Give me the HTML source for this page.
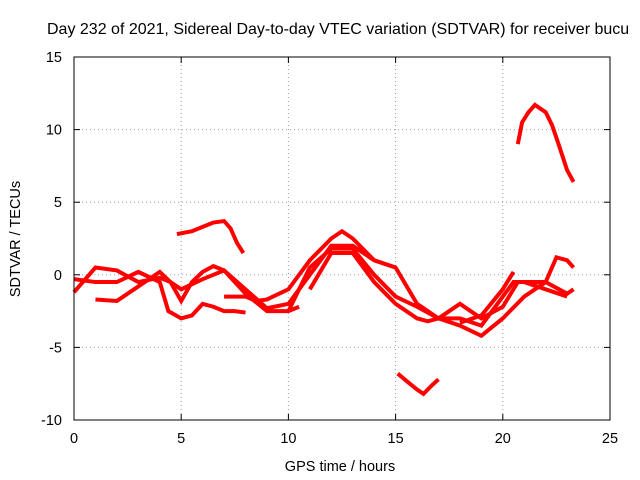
<!DOCTYPE html>
<html><head><meta charset="utf-8"><style>
body{margin:0;background:#fff}
svg{display:block;font-family:"Liberation Sans",sans-serif}
</style></head><body>
<svg id="chart" width="640" height="480" viewBox="0 0 640 480">
<text x="47" y="34" font-size="16">Day 232 of 2021, Sidereal Day-to-day VTEC variation (SDTVAR) for receiver bucu</text>
<text x="340" y="471" font-size="14.5" text-anchor="middle">GPS time / hours</text>
<text transform="translate(20,239) rotate(-90)" font-size="14.5" text-anchor="middle">SDTVAR / TECUs</text>
<g id="grid"></g><g id="series"></g>
<rect x="74" y="57" width="536" height="363" fill="none" stroke="#000" stroke-width="1"/>
<g id="ticks"></g>
</svg>
<script>
const xTicks=[0,5,10,15,20,25];
const yTicks=[15,10,5,0,-5,-10];
const s1=[[4.8,2.8],[5.5,3.0],[6,3.3],[6.5,3.6],[7,3.7],[7.3,3.2],[7.6,2.2],[7.9,1.5]];
const s2=[[20.7,9.0],[20.9,10.5],[21.2,11.2],[21.5,11.7],[22,11.2],[22.3,10.3],[22.6,9.0],[23,7.2],[23.3,6.4]];
const s3=[[15.1,-6.8],[15.5,-7.3],[16,-7.9],[16.3,-8.2],[16.7,-7.6],[17,-7.2]];
const l1=[[0,-1.2],[1,0.5],[2,0.3],[3,-0.5],[4,-0.2],[4.5,-0.5],[5,-1.0],[6,-0.3],[7,0.3],[8,-1],[9,-2.3],[10,-2],[11,0],[12,2],[13,2],[14,1],[15,0.5]];
const l2=[[0,-0.3],[1,-0.5],[2,-0.5],[3,0.2],[4,-0.5],[4.4,-2.5],[5,-3],[5.5,-2.8],[6,-2],[6.5,-2.2],[7,-2.5],[7.5,-2.5],[8,-2.6]];
const l3=[[1,-1.7],[2,-1.8],[3,-0.8],[4,0.2],[4.5,-0.5],[5,-1.8],[5.5,-0.5],[6,0.2],[6.5,0.6],[7,0.3],[7.5,-0.5],[8,-1.3],[9,-2.5],[10,-2.5],[10.5,-2.2]];
const l4=[[7,-1.5],[8,-1.5],[8.5,-1.8],[9,-1.7],[10,-1.0],[11,1],[12,2.5],[12.5,3],[13,2.5],[14,1],[15,0.5],[16,-2],[17,-3],[18,-3],[19,-3.5],[20,-1.5],[20.5,-0.5],[21,-0.5],[22,-1.0],[23,-1.5]];
const l5=[[10,-2.5],[11,0.5],[12,1.8],[13,1.8],[14,0],[15,-1.5],[16,-2.2],[17,-3],[18,-2],[19,-3],[20,-2.2],[20.7,-0.5],[21.5,-0.5],[22,-0.5],[22.5,1.2],[23,1],[23.3,0.5]];
const l6=[[11,-1],[12,1.5],[13,1.5],[14,-0.5],[15,-2],[16,-3],[16.5,-3.2],[17,-3],[18,-3.5],[19,-4.2],[20,-3],[21,-1.5],[22,-0.5],[23,-1.3],[23.3,-1]];
const l7=[[18,-3.3],[19,-2.8],[20,-1],[20.5,0.2]];
const allSeries=[s1,s2,s3,l1,l2,l3,l4,l5,l6,l7];
const X=v=>74+(v-0)/25*536, Y=v=>420-(v+10)/25*363;
const NS="http://www.w3.org/2000/svg";
const grid=document.getElementById('grid'),ticks=document.getElementById('ticks'),ser=document.getElementById('series');
function mk(tag,attrs,parent){const e=document.createElementNS(NS,tag);for(const k in attrs)e.setAttribute(k,attrs[k]);parent.appendChild(e);return e;}
xTicks.forEach(t=>{
 if(t>0&&t<25){const g=mk('line',{x1:X(t),x2:X(t),y1:57,y2:420,stroke:'#a0a0a0','stroke-dasharray':'1,3'},grid);
 
 }
 const tl=mk('text',{x:X(t),y:443,'font-size':14.5,'text-anchor':'middle'},ticks);tl.textContent=t;
 
 
 mk('line',{x1:X(t),x2:X(t),y1:420,y2:414,stroke:'#000'},ticks);
 mk('line',{x1:X(t),x2:X(t),y1:57,y2:63,stroke:'#000'},ticks);
});
yTicks.forEach(t=>{
 if(t>-10&&t<15){const g=mk('line',{x1:74,x2:610,y1:Y(t),y2:Y(t),stroke:'#a0a0a0','stroke-dasharray':'1,3'},grid);
 
 }
 const tl=mk('text',{x:62,y:Y(t)+5,'font-size':14.5,'text-anchor':'end'},ticks);tl.textContent=t;
 
 
 mk('line',{x1:74,x2:80,y1:Y(t),y2:Y(t),stroke:'#000'},ticks);
 mk('line',{x1:610,x2:604,y1:Y(t),y2:Y(t),stroke:'#000'},ticks);
});
allSeries.forEach((s,i)=>{
 const p=mk('polyline',{points:s.map(d=>X(d[0])+','+Y(d[1])).join(' '),fill:'none',stroke:'#f00','stroke-width':4,'stroke-linejoin':'miter','stroke-linecap':'butt'},ser);
 
 
});
</script>
</body></html>
